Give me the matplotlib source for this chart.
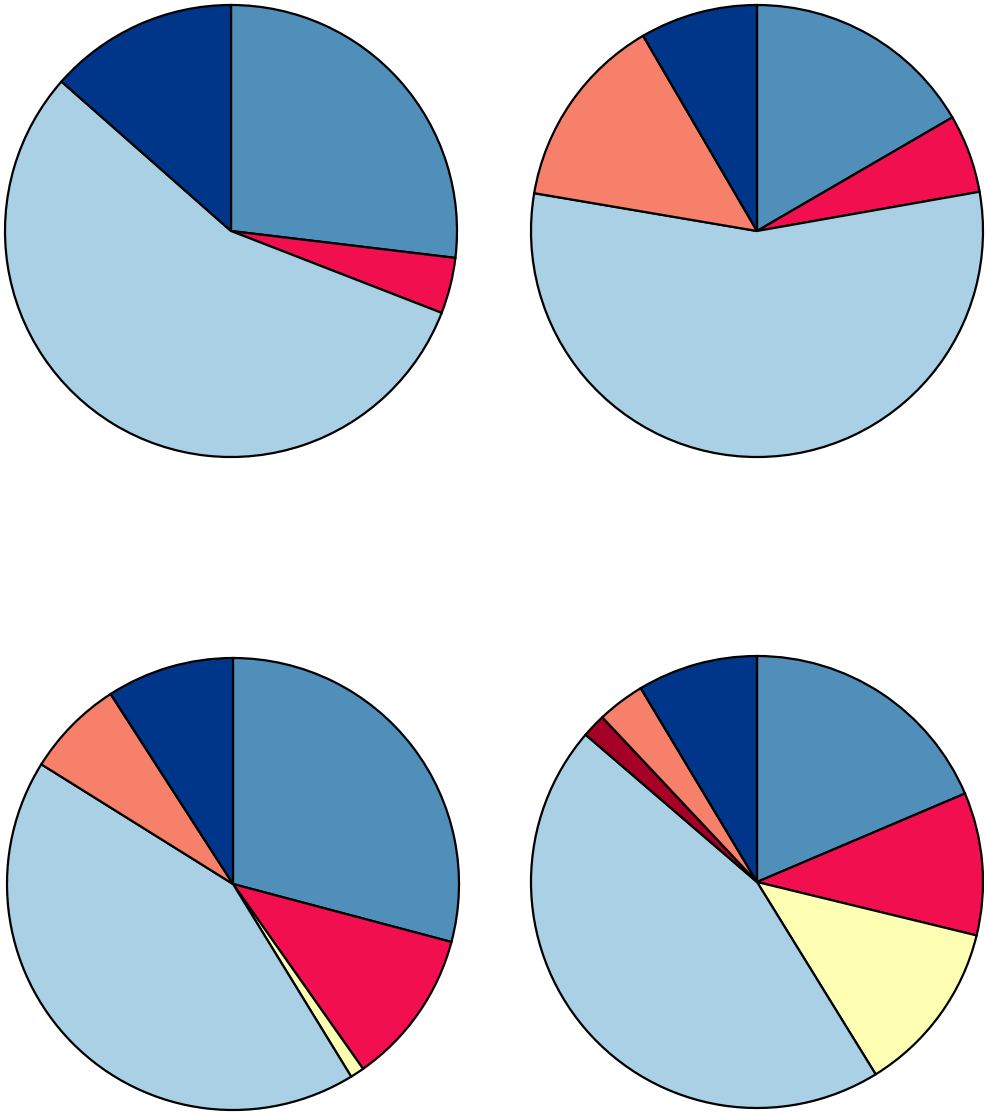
import matplotlib
matplotlib.use('Agg')
import matplotlib.pyplot as plt

# 颜色
steel = '#4F8FBA'
crimson = '#F20F50'
yellow = '#FFFFB3'
light = '#A9D0E5'
darkred = '#A50026'
salmon = '#F6806A'
navy = '#00368A'

# 数据 (顺时针, 从12点开始)
pie1_vals = [0.269, 0.040, 0.556, 0.135]
pie1_cols = [steel, crimson, light, navy]

pie2_vals = [0.166, 0.056, 0.554, 0.139, 0.084]
pie2_cols = [steel, crimson, light, salmon, navy]

pie3_vals = [0.291, 0.111, 0.010, 0.426, 0.070, 0.091]
pie3_cols = [steel, crimson, yellow, light, salmon, navy]

pie4_vals = [0.186, 0.102, 0.124, 0.451, 0.017, 0.034, 0.086]
pie4_cols = [steel, crimson, yellow, light, darkred, salmon, navy]

W, H = 987, 1113
fig = plt.figure(figsize=(W / 100, H / 100), dpi=100)

R = 226
centers = [(231, 231), (757, 231), (233, 884), (757, 882)]
all_vals = [pie1_vals, pie2_vals, pie3_vals, pie4_vals]
all_cols = [pie1_cols, pie2_cols, pie3_cols, pie4_cols]

for (cx, cy), vals, cols in zip(centers, all_vals, all_cols):
    ax = fig.add_axes([(cx - R) / W, (H - cy - R) / H, 2 * R / W, 2 * R / H])
    wedges, _ = ax.pie(vals, colors=cols, startangle=90, counterclock=False,
                       radius=1, normalize=True,
                       wedgeprops=dict(edgecolor='black', linewidth=1.6))
    for w in wedges:
        w.set_clip_on(False)
    ax.set_xlim(-1, 1)
    ax.set_ylim(-1, 1)
    ax.set_aspect('equal')
    ax.axis('off')

fig.savefig('out.png', dpi=100)
